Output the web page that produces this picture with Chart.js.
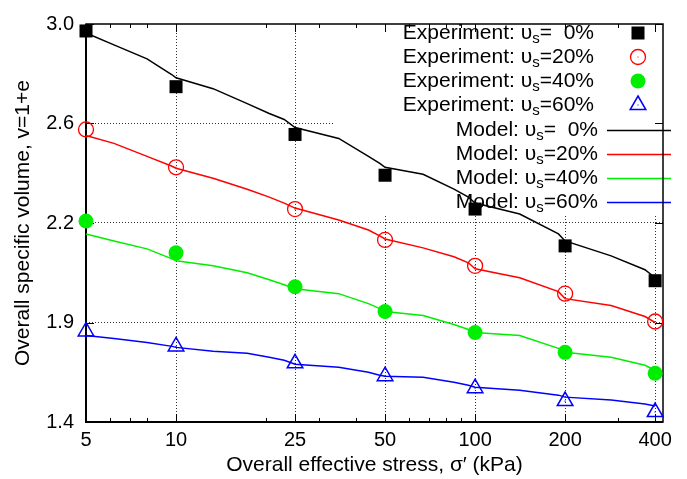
<!DOCTYPE html>
<html lang="en">
<head>
<meta charset="UTF-8">
<title>Overall specific volume vs effective stress</title>
<script src="https://cdn.jsdelivr.net/npm/chart.js"></script>
<style>
  body { margin: 0; background: #fff; }
  #wrap { width: 687px; height: 479px; }
</style>
</head>
<body>
<div id="wrap"><canvas id="volChart" width="687" height="479"></canvas></div>
<script>
// experiment: loading steps (kPa) and measured v
const stressExp = [5, 10, 25, 50, 100, 200, 400];
const exp0  = [2.972, 2.748, 2.556, 2.392, 2.256, 2.108, 1.968];
const exp20 = [2.576, 2.424, 2.256, 2.132, 2.028, 1.916, 1.804];
const exp40 = [2.208, 2.080, 1.944, 1.844, 1.760, 1.680, 1.596];
const exp60 = [1.764, 1.704, 1.636, 1.584, 1.536, 1.484, 1.440];

// model curves
const stressModel = [5, 6.2, 8, 9.7, 10, 13.3, 17.3, 20.5, 23, 25, 35, 44, 48, 50, 67, 85, 95, 100, 141, 190, 200, 285, 370, 400];
const model0  = [2.964, 2.916, 2.860, 2.796, 2.784, 2.740, 2.680, 2.640, 2.616, 2.584, 2.540, 2.468, 2.440, 2.424, 2.396, 2.336, 2.304, 2.280, 2.236, 2.156, 2.128, 2.068, 2.012, 1.980];
const model20 = [2.552, 2.520, 2.468, 2.428, 2.420, 2.380, 2.336, 2.304, 2.280, 2.260, 2.212, 2.172, 2.148, 2.136, 2.100, 2.064, 2.040, 2.016, 1.980, 1.924, 1.896, 1.868, 1.824, 1.800];
const model40 = [2.156, 2.128, 2.096, 2.056, 2.048, 2.028, 2.000, 1.972, 1.952, 1.936, 1.916, 1.876, 1.856, 1.844, 1.828, 1.792, 1.772, 1.760, 1.748, 1.696, 1.680, 1.660, 1.628, 1.608];
const model60 = [1.748, 1.736, 1.720, 1.704, 1.700, 1.684, 1.676, 1.660, 1.648, 1.632, 1.620, 1.600, 1.588, 1.584, 1.580, 1.560, 1.548, 1.540, 1.528, 1.508, 1.500, 1.488, 1.472, 1.464];

const xTicks = [5, 10, 25, 50, 100, 200, 400];
const xTickLabels = ['5', '10', '25', '50', '100', '200', '400'];
const xMinorTicks = [6, 7, 8, 20, 30, 40, 60, 70, 80, 90, 300];
const yTicks = [1.4, 1.8, 2.2, 2.6, 3.0];
const yTickLabels = ['1.4', '1.9', '2.2', '2.6', '3.0'];
const keyValues = ['0%', '20%', '40%', '60%'];
const colors = ['#000000', '#ff0000', '#00ee00', '#0000ff'];

const FONT = '"Liberation Sans", Arial, sans-serif';

function pts(xs, ys) {
    return xs.map((x, i) => ({ x: x, y: ys[i] }));
}

function drawMarker(ctx, kind, x, y) {
    ctx.save();
    if (kind === 0) {
        ctx.fillStyle = colors[0];
        ctx.fillRect(x - 6.5, y - 6.5, 13, 13);
    } else if (kind === 1) {
        ctx.strokeStyle = colors[1];
        ctx.fillStyle = colors[1];
        ctx.lineWidth = 1.3;
        ctx.beginPath(); ctx.arc(x, y, 7.5, 0, Math.PI * 2); ctx.stroke();
        ctx.fillRect(x - 0.5, y - 0.5, 1, 1);
    } else if (kind === 2) {
        ctx.fillStyle = colors[2];
        ctx.beginPath(); ctx.arc(x, y, 7.5, 0, Math.PI * 2); ctx.fill();
    } else {
        ctx.strokeStyle = colors[3];
        ctx.fillStyle = colors[3];
        ctx.lineWidth = 1.5;
        ctx.beginPath();
        ctx.moveTo(x, y - 9);
        ctx.lineTo(x + 7.8, y + 4.5);
        ctx.lineTo(x - 7.8, y + 4.5);
        ctx.closePath(); ctx.stroke();
        ctx.fillRect(x - 0.5, y - 0.5, 1, 1);
    }
    ctx.restore();
}

function drawKeyText(ctx, prefix, value, xRight, y) {
    const big = '21px ' + FONT, small = '15px ' + FONT;
    ctx.font = big;
    const wPre = ctx.measureText(prefix + 'υ').width;
    const wEq = ctx.measureText('=').width;
    const wVal = ctx.measureText('20%').width;
    ctx.font = small;
    const wSub = ctx.measureText('s').width;
    let x = xRight - wVal - wEq - wSub - wPre;
    ctx.fillStyle = '#000';
    ctx.textBaseline = 'middle';
    ctx.textAlign = 'left';
    ctx.font = big;
    ctx.fillText(prefix + 'υ', x, y);
    x += wPre;
    ctx.font = small;
    ctx.fillText('s', x, y + 6);
    x += wSub;
    ctx.font = big;
    ctx.fillText('=', x, y);
    ctx.textAlign = 'right';
    ctx.fillText(value, xRight, y);
}

// gnuplot-like frame: opaque key, border, inward ticks on all four sides
const framePlugin = {
    id: 'frame',
    beforeDatasetsDraw(chart) {
        const ctx = chart.ctx;
        const a = chart.chartArea;
        const xs = chart.scales.x, ys = chart.scales.y;
        ctx.save();

        // key box
        ctx.fillStyle = '#fff';
        ctx.fillRect(333, a.top + 1, a.right - 334, 213 - a.top);
        const rowY = [33, 57, 81, 105, 130, 154, 178, 202];
        for (let i = 0; i < 4; i++) {
            drawKeyText(ctx, 'Experiment: ', keyValues[i], 594, rowY[i]);
            drawMarker(ctx, i, 638, rowY[i]);
        }
        for (let i = 0; i < 4; i++) {
            drawKeyText(ctx, 'Model: ', keyValues[i], 598, rowY[i + 4]);
            ctx.strokeStyle = colors[i];
            ctx.lineWidth = 1.5;
            ctx.beginPath();
            ctx.moveTo(607, rowY[i + 4] + 0.5);
            ctx.lineTo(671, rowY[i + 4] + 0.5);
            ctx.stroke();
        }

        // ticks
        ctx.strokeStyle = '#000';
        ctx.lineWidth = 1;
        ctx.beginPath();
        xTicks.forEach(v => {
            const px = Math.round(xs.getPixelForValue(v)) + 0.5;
            ctx.moveTo(px, a.bottom); ctx.lineTo(px, a.bottom - 8);
            ctx.moveTo(px, a.top); ctx.lineTo(px, a.top + 8);
        });
        xMinorTicks.forEach(v => {
            const px = Math.round(xs.getPixelForValue(v)) + 0.5;
            ctx.moveTo(px, a.bottom); ctx.lineTo(px, a.bottom - 4);
            ctx.moveTo(px, a.top); ctx.lineTo(px, a.top + 4);
        });
        yTicks.forEach(v => {
            const py = Math.round(ys.getPixelForValue(v)) + 0.5;
            ctx.moveTo(a.left, py); ctx.lineTo(a.left + 8, py);
            ctx.moveTo(a.right, py); ctx.lineTo(a.right - 8, py);
        });
        ctx.stroke();

        // border
        ctx.lineWidth = 1.5;
        ctx.strokeRect(a.left, a.top, a.right - a.left, a.bottom - a.top);
        ctx.lineWidth = 2;
        ctx.beginPath();
        ctx.moveTo(a.left, a.top); ctx.lineTo(a.left, a.bottom); ctx.lineTo(a.right, a.bottom);
        ctx.stroke();
        ctx.restore();
    }
};

const expStyles = [
    { pointStyle: 'rect', pointRadius: 9.2, backgroundColor: colors[0], borderColor: colors[0], borderWidth: 0 },
    { pointStyle: 'circle', pointRadius: 7.5, backgroundColor: 'rgba(0,0,0,0)', borderColor: colors[1], borderWidth: 1.3 },
    { pointStyle: 'circle', pointRadius: 7.5, backgroundColor: colors[2], borderColor: colors[2], borderWidth: 0 },
    { pointStyle: 'triangle', pointRadius: 9, backgroundColor: 'rgba(0,0,0,0)', borderColor: colors[3], borderWidth: 1.5 }
];
const expData = [exp0, exp20, exp40, exp60];
const modelData = [model0, model20, model40, model60];

const datasets = [];
for (let i = 0; i < 4; i++) {
    datasets.push(Object.assign({
        label: 'Experiment ' + keyValues[i],
        data: pts(stressExp, expData[i]),
        showLine: false,
        clip: false,
        order: 0
    }, expStyles[i]));
}
// small centre dots inside the hollow markers
[1, 3].forEach(i => {
    datasets.push({
        label: 'dot ' + keyValues[i],
        data: pts(stressExp, expData[i]),
        showLine: false,
        clip: false,
        pointStyle: 'rect',
        pointRadius: 0.8,
        backgroundColor: colors[i],
        borderWidth: 0,
        order: 0
    });
});
for (let i = 0; i < 4; i++) {
    datasets.push({
        label: 'Model ' + keyValues[i],
        data: pts(stressModel, modelData[i]),
        borderColor: colors[i],
        borderWidth: 1.5,
        pointRadius: 0,
        fill: false,
        tension: 0,
        clip: false,
        order: 1
    });
}

const ctx = document.getElementById('volChart').getContext('2d');
const chart = new Chart(ctx, {
    type: 'line',
    data: { datasets: datasets },
    plugins: [framePlugin],
    options: {
        responsive: false,
        animation: false,
        devicePixelRatio: 1,
        events: [],
        layout: { padding: { top: 22, right: 24, left: 0, bottom: 0 } },
        plugins: { legend: { display: false }, tooltip: { enabled: false } },
        scales: {
            x: {
                type: 'logarithmic',
                min: 5,
                max: 425,
                afterBuildTicks: s => { s.ticks = xTicks.map(v => ({ value: v })); },
                afterFit: s => { s.height = 57; },
                ticks: {
                    autoSkip: false,
                    maxRotation: 0,
                    padding: 6,
                    color: '#000',
                    font: { family: FONT, size: 20 },
                    callback: v => xTickLabels[xTicks.indexOf(v)]
                },
                grid: {
                    drawTicks: false,
                    color: c => (c.tick && c.tick.value === 5) ? 'rgba(0,0,0,0)' : '#333',
                    lineWidth: 1
                },
                border: { display: false, dash: [1, 2] },
                title: {
                    display: true,
                    text: 'Overall effective stress, σ′ (kPa)',
                    color: '#000',
                    font: { family: FONT, size: 21 },
                    padding: { top: 0, bottom: 1 }
                }
            },
            y: {
                type: 'linear',
                min: 1.4,
                max: 3.0,
                afterBuildTicks: s => { s.ticks = yTicks.map(v => ({ value: v })); },
                afterFit: s => { s.width = 86; },
                ticks: {
                    padding: 12,
                    color: '#000',
                    font: { family: FONT, size: 20 },
                    callback: v => yTickLabels[yTicks.findIndex(t => Math.abs(t - v) < 1e-6)]
                },
                grid: {
                    drawTicks: false,
                    color: c => (c.tick && (Math.abs(c.tick.value - 1.4) < 1e-6 || Math.abs(c.tick.value - 3.0) < 1e-6)) ? 'rgba(0,0,0,0)' : '#333',
                    lineWidth: 1
                },
                border: { display: false, dash: [1, 2] },
                title: {
                    display: true,
                    text: 'Overall specific volume, v=1+e',
                    color: '#000',
                    font: { family: FONT, size: 21 },
                    padding: { top: 11, bottom: 0 }
                }
            }
        }
    }
});
</script>
</body>
</html>
